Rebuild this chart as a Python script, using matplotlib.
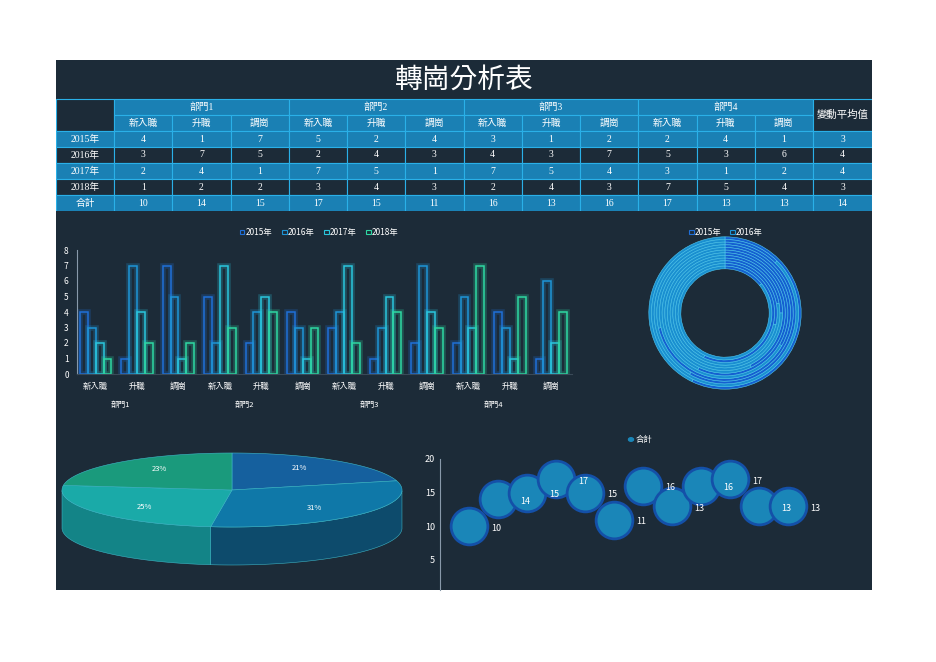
import numpy as np
import matplotlib.pyplot as plt
from matplotlib.patches import Rectangle, Polygon

plt.rcParams['font.family'] = ['Noto Sans CJK TC', 'DejaVu Sans']

depts = ['部門1', '部門2', '部門3', '部門4']
kinds = ['新入職', '升職', '調崗']
years = ['2015年', '2016年', '2017年', '2018年']
v2015 = [4, 1, 7, 5, 2, 4, 3, 1, 2, 2, 4, 1]
v2016 = [3, 7, 5, 2, 4, 3, 4, 3, 7, 5, 3, 6]
v2017 = [2, 4, 1, 7, 5, 1, 7, 5, 4, 3, 1, 2]
v2018 = [1, 2, 2, 3, 4, 3, 2, 4, 3, 7, 5, 4]
totals = [10, 14, 15, 17, 15, 11, 16, 13, 16, 17, 13, 13]
avg = [3, 4, 4, 3, 14]
pie_pct = [21, 31, 25, 23]

W, H = 936, 662
BG = '#1c2b38'
fig = plt.figure(figsize=(9.36, 6.62), dpi=100, facecolor='white')

def ax_px(x0, y0, x1, y1, **kw):
    return fig.add_axes([x0 / W, 1 - y1 / H, (x1 - x0) / W, (y1 - y0) / H], **kw)

panel = ax_px(56, 60, 872, 590)
panel.set_facecolor(BG)
panel.set_xticks([]); panel.set_yticks([])
for s in panel.spines.values():
    s.set_visible(False)

# ---- table
tb = ax_px(56, 60, 872, 211)
tb.set_xlim(56, 872); tb.set_ylim(211, 60)
tb.axis('off')
tb.text(464, 80, '轉崗分析表', color='white', fontsize=20, ha='center', va='center')
light, dark, line = '#1a80b4', '#1c2b38', '#2ab0e8'
cx = [56, 114] + [114 + 58.25 * (i + 1) for i in range(12)]
cx[-1] = 813
cx.append(872)

def cell(x0, x1, y0, y1, fc, txt, fs=7):
    tb.add_patch(Rectangle((x0, y0), x1 - x0, y1 - y0, fc=fc, ec=line, lw=0.8))
    if txt != '':
        tb.text((x0 + x1) / 2, (y0 + y1) / 2, str(txt), color='white', fontsize=fs,
                ha='center', va='center', family=['Liberation Serif', 'Noto Sans CJK TC'])

cell(56, 114, 99, 131, dark, '')
for d in range(4):
    cell(cx[1 + 3 * d], cx[4 + 3 * d], 99, 115, light, depts[d])
    for k in range(3):
        cell(cx[1 + 3 * d + k], cx[2 + 3 * d + k], 115, 131, light, kinds[k])
cell(813, 872, 99, 131, dark, '變動平均值', fs=7.5)
rows = [v2015, v2016, v2017, v2018, totals]
labels = years + ['合計']
for r in range(5):
    y0 = 131 + r * 16
    fc = light if r % 2 == 0 else dark
    cell(56, 114, y0, y0 + 16, fc, labels[r])
    for c in range(12):
        cell(cx[1 + c], cx[2 + c], y0, y0 + 16, fc, rows[r][c])
    cell(813, 872, y0, y0 + 16, fc, avg[r])

# ---- grouped bar chart
cols = ['#1f6fd8', '#1e95d6', '#2ac6dc', '#2ed8a2']
ab = ax_px(77, 250, 572, 374)
ab.set_facecolor('none')
x = np.arange(12)
bw = 0.19
for i, (vals, c) in enumerate(zip([v2015, v2016, v2017, v2018], cols)):
    xs = x + (i - 1.5) * bw
    ab.bar(xs, vals, bw, fill=False, edgecolor=c, lw=4, alpha=0.25)
    ab.bar(xs, vals, bw, fill=False, edgecolor=c, lw=1.1)
ab.set_ylim(0, 8); ab.set_xlim(-0.45, 11.5)
ab.set_yticks(range(9))
ab.set_xticks(x)
ab.set_xticklabels(kinds * 4)
ab.tick_params(colors='white', labelsize=6, length=0, pad=6)
for s in ['top', 'right']:
    ab.spines[s].set_visible(False)
ab.spines['bottom'].set_color('#3a4a58')
ab.spines['left'].set_color('#8899aa')
for d in range(4):
    ab.text(3 * d + 0.6, -2.0, depts[d], color='white', fontsize=5.5, ha='center', va='center')
for i, (yr, c) in enumerate(zip(years, cols)):
    xx = 240 + i * 42
    fig.patches.append(Rectangle((xx / W, 1 - 234 / H), 4.5 / W, 4.5 / H, fill=False, ec=c, lw=0.8,
                                 transform=fig.transFigure))
    fig.text((xx + 6) / W, 1 - 232 / H, yr, color='white', fontsize=6, va='center')

# ---- donut of concentric rings
ad = ax_px(645, 233, 805, 393)
ad.set_aspect('equal'); ad.axis('off')
r_out, r_in = 1.0, 0.58
n = 12
width = (r_out - r_in) / n
for k in range(n):
    r = r_out - k * width
    ad.pie([v2015[k], v2016[k]], radius=r, colors=['#1560d0', '#1a8fd0'], startangle=90,
           counterclock=False, wedgeprops=dict(width=width, edgecolor='#4fc8f0', lw=0.4))
ad.set_xlim(-1.05, 1.05); ad.set_ylim(-1.05, 1.05)
for i, (yr, c) in enumerate(zip(years[:2], ['#1f6fd8', '#1e95d6'])):
    xx = 689 + i * 41
    fig.patches.append(Rectangle((xx / W, 1 - 234 / H), 4.5 / W, 4.5 / H, fill=False, ec=c, lw=0.8,
                                 transform=fig.transFigure))
    fig.text((xx + 6) / W, 1 - 232 / H, yr, color='white', fontsize=6, va='center')

# ---- 3D-looking pie
ap = ax_px(56, 440, 420, 590)
ap.set_xlim(56, 420); ap.set_ylim(590, 440)
ap.axis('off')
pcx, pcy, rx, ry, depth = 232, 490, 170, 37, 38
top_cols = ['#15609e', '#0f78a8', '#1aaaa8', '#1a9a7c']
side_cols = ['#0e3f68', '#0d4d70', '#138a8c', '#147a66']
fr = np.cumsum([0] + pie_pct) / 100.0
for i in range(4):
    a0 = np.pi / 2 - 2 * np.pi * fr[i]
    a1 = np.pi / 2 - 2 * np.pi * fr[i + 1]
    t = np.linspace(a0, a1, 80)
    ts = t[np.sin(t) < 0]
    if len(ts) > 1:
        px = pcx + rx * np.cos(ts)
        py = pcy - ry * np.sin(ts)
        poly = np.vstack([np.column_stack([px, py]), np.column_stack([px[::-1], py[::-1] + depth])])
        ap.add_patch(Polygon(poly, fc=side_cols[i], ec='#3fb8c8', lw=0.4, alpha=0.95))
for i in range(4):
    a0 = np.pi / 2 - 2 * np.pi * fr[i]
    a1 = np.pi / 2 - 2 * np.pi * fr[i + 1]
    t = np.linspace(a0, a1, 80)
    pts = np.column_stack([pcx + rx * np.cos(t), pcy - ry * np.sin(t)])
    pts = np.vstack([[pcx, pcy], pts])
    ap.add_patch(Polygon(pts, fc=top_cols[i], ec='#3fb8c8', lw=0.4))
    am = (a0 + a1) / 2
    ap.text(pcx + 0.65 * rx * np.cos(am), pcy - 0.75 * ry * np.sin(am), f'{pie_pct[i]}%',
            color='white', fontsize=5.5, ha='center', va='center')

# ---- bubble chart
bb = ax_px(440, 459, 872, 590)
bb.set_facecolor('none')
bx = np.arange(12)
bb.scatter(bx, totals, s=700, color='#1a86b8', edgecolors='#1450a8', linewidths=2, zorder=3)
for i, v in enumerate(totals):
    bb.text(i + 0.95, v - 0.3, str(v), color='white', fontsize=6.5, ha='center', va='center', zorder=4)
bb.set_xlim(-1, 13.9); bb.set_ylim(0.54, 20)
bb.set_yticks([5, 10, 15, 20]); bb.set_xticks([])
bb.tick_params(colors='white', labelsize=6.5, length=0)
for s in ['top', 'right', 'bottom']:
    bb.spines[s].set_visible(False)
bb.spines['left'].set_color('#8899aa')
fig.patches.append(plt.Circle((631 / W, 1 - 439.5 / H), 2.5 / W, color='#1a86b8', transform=fig.transFigure))
fig.text(636 / W, 1 - 439 / H, '合計', color='white', fontsize=6, va='center')

fig.savefig('out.png', dpi=100, facecolor='white')
